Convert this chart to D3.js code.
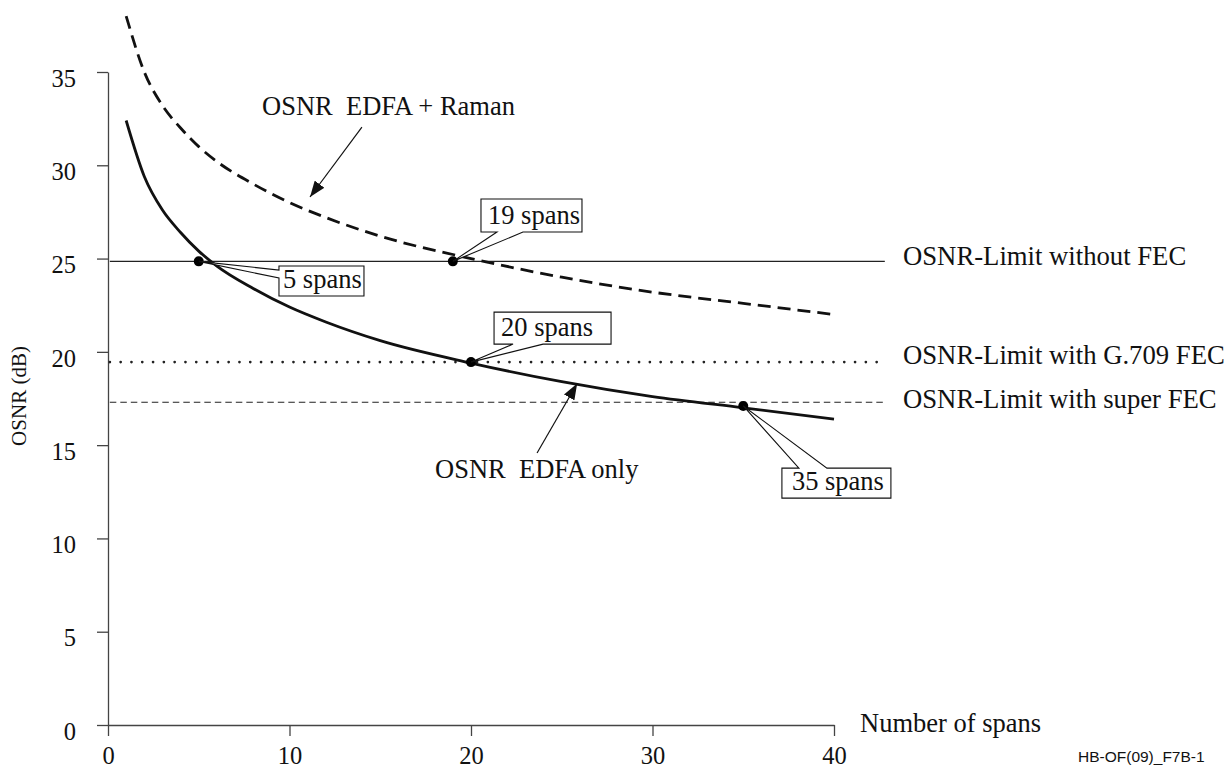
<!DOCTYPE html>
<html>
<head>
<meta charset="utf-8">
<script src="https://cdn.jsdelivr.net/npm/d3@7"></script>
<style>
  body { margin: 0; background: #fff; }
  svg { display: block; }
  svg text { font-family: "Liberation Serif", "Times New Roman", serif; fill: #111; }
</style>
</head>
<body>
<svg id="chart" width="1231" height="770"></svg>
<script>
// OSNR versus number of amplifier spans
const spans = [1, 2, 3, 4, 5, 6, 8, 10, 12, 15, 20, 25, 30, 35, 40];
const osnrEdfaOnly  = [32.4, 29.4, 27.6, 26.4, 25.4, 24.6, 23.4, 22.4, 21.6, 20.6, 19.4, 18.4, 17.6, 17.0, 16.4];
const osnrEdfaRaman = [38.0, 35.0, 33.2, 32.0, 31.0, 30.2, 29.0, 28.0, 27.2, 26.2, 25.0, 24.0, 23.2, 22.6, 22.0];

// OSNR limits for the different FEC schemes (dB)
const limitNames  = ["OSNR-Limit without FEC", "OSNR-Limit with G.709 FEC", "OSNR-Limit with super FEC"];
const limitValues = [24.85, 19.45, 17.3];

// Reach points: where a curve meets a limit
const reachLabels = ["5 spans", "19 spans", "20 spans", "35 spans"];
const reachSpans  = [5, 19, 20, 35];
const reachOsnr   = [24.85, 24.85, 19.45, 17.1];

const xTicks = [0, 10, 20, 30, 40];
const yTicks = [0, 5, 10, 15, 20, 25, 30, 35];

const SERIF = '"Liberation Serif", "Times New Roman", serif';
const SANS = '"Liberation Sans", Arial, sans-serif';

const svg = d3.select("#chart");
const x = d3.scaleLinear().domain([0, 40]).range([108, 834]);
const y = d3.scaleLinear().domain([0, 35]).range([725, 72]);

// ---- axes ----
const yAxis = svg.append("g")
  .attr("transform", `translate(${x(0)},0)`)
  .call(d3.axisLeft(y).tickValues(yTicks).tickSize(11).tickSizeOuter(0).tickPadding(21));
const xAxis = svg.append("g")
  .attr("transform", `translate(0,${y(0)})`)
  .call(d3.axisBottom(x).tickValues(xTicks).tickSize(11).tickSizeOuter(0));
[yAxis, xAxis].forEach(g => {
  g.select(".domain").attr("stroke", "#444").attr("stroke-width", 1.3);
  g.selectAll(".tick line").attr("stroke", "#444").attr("stroke-width", 1.3);
  g.selectAll(".tick text")
    .style("font-family", SERIF)
    .style("font-size", "24.5px").style("fill", "#111");
});
yAxis.selectAll(".tick text").attr("dy", "0.58em");
xAxis.selectAll(".tick text").attr("y", 39).attr("dy", 0);

svg.append("text")
  .attr("transform", `translate(26,${396}) rotate(-90)`)
  .attr("text-anchor", "middle")
  .style("font-family", SERIF).style("font-size", "21px")
  .text("OSNR (dB)");

svg.append("text")
  .attr("x", 860).attr("y", 732)
  .style("font-family", SERIF).style("font-size", "26.5px")
  .text("Number of spans");

svg.append("text")
  .attr("x", 1078).attr("y", 762)
  .style("font-family", SANS).style("font-size", "15.5px")
  .text("HB-OF(09)_F7B-1");

// ---- limit lines ----
const limitEnd = 42.8;
const limitStyles = [
  { width: 1.3, dash: null, cap: "butt" },
  { width: 2.6, dash: "0.1,10.7", cap: "round" },
  { width: 1.1, dash: "6.5,4", cap: "butt" }
];
limitValues.forEach((v, i) => {
  svg.append("line")
    .attr("x1", x(0.1)).attr("x2", x(limitEnd))
    .attr("y1", y(v)).attr("y2", y(v))
    .attr("stroke", "#222")
    .attr("stroke-width", limitStyles[i].width)
    .attr("stroke-dasharray", limitStyles[i].dash)
    .attr("stroke-linecap", limitStyles[i].cap);
});
const limitLabelY = [265, 364, 408];
limitNames.forEach((t, i) => {
  svg.append("text")
    .attr("x", 903).attr("y", limitLabelY[i])
    .style("font-family", SERIF).style("font-size", "26.7px")
    .text(t);
});

// ---- OSNR curves ----
const line = d3.line()
  .x(d => x(d[0])).y(d => y(d[1]))
  .curve(d3.curveMonotoneX);

svg.append("path")
  .datum(d3.zip(spans, osnrEdfaRaman))
  .attr("d", line)
  .attr("fill", "none").attr("stroke", "#111")
  .attr("stroke-width", 2.8)
  .attr("stroke-dasharray", "13,7");

svg.append("path")
  .datum(d3.zip(spans, osnrEdfaOnly))
  .attr("d", line)
  .attr("fill", "none").attr("stroke", "#111")
  .attr("stroke-width", 2.8);

// ---- reach points ----
svg.selectAll("circle.reach")
  .data(d3.zip(reachSpans, reachOsnr))
  .join("circle")
  .attr("class", "reach")
  .attr("cx", d => x(d[0])).attr("cy", d => y(d[1]))
  .attr("r", 5).attr("fill", "#000");

// ---- callout boxes ----
// box anchor given in data coordinates, size and pointer in pixels
const callouts = [
  { bx: 9.42,  by: 24.6,  w: 85,  h: 30, side: "left",   a0: 4,  a1: 12, pad: 4 },
  { bx: 20.55, by: 28.19, w: 101, h: 33, side: "bottom", a0: 16, a1: 42, pad: 7 },
  { bx: 21.27, by: 22.13, w: 117, h: 32, side: "bottom", a0: 19, a1: 49, pad: 7 },
  { bx: 37.13, by: 13.77, w: 109, h: 30, side: "top",    a0: 17, a1: 45, pad: 10 }
];
callouts.forEach((c, i) => {
  const x0 = x(c.bx), y0 = y(c.by), x1 = x0 + c.w, y1 = y0 + c.h;
  const tx = x(reachSpans[i]), ty = y(reachOsnr[i]);
  let p;
  if (c.side === "bottom") {
    p = `M${x0},${y0}H${x1}V${y1}H${x0 + c.a1}L${tx},${ty}L${x0 + c.a0},${y1}H${x0}Z`;
  } else if (c.side === "top") {
    p = `M${x0},${y0}H${x0 + c.a0}L${tx},${ty}L${x0 + c.a1},${y0}H${x1}V${y1}H${x0}Z`;
  } else {
    p = `M${x0},${y0}H${x1}V${y1}H${x0}V${y0 + c.a1}L${tx},${ty}L${x0},${y0 + c.a0}Z`;
  }
  svg.append("path").attr("d", p)
    .attr("fill", "#fff").attr("stroke", "#111").attr("stroke-width", 1.1)
    .attr("stroke-linejoin", "miter");
  svg.append("text")
    .attr("x", x0 + c.pad).attr("y", y0 + c.h - 8)
    .style("font-family", SERIF).style("font-size", "26.5px")
    .text(reachLabels[i]);
});

// ---- curve labels with arrows ----
svg.append("defs").append("marker")
  .attr("id", "head")
  .attr("viewBox", "0 0 16 12")
  .attr("refX", 16).attr("refY", 6)
  .attr("markerWidth", 16).attr("markerHeight", 12)
  .attr("markerUnits", "userSpaceOnUse")
  .attr("orient", "auto")
  .append("path").attr("d", "M0,0L16,6L0,12Z").attr("fill", "#111");

const curveLabels = [
  { text: "OSNR  EDFA + Raman", tx: 262, ty: 115, from: [13.99, 32.05], to: [11.13, 28.3] },
  { text: "OSNR  EDFA only",    tx: 435, ty: 478, from: [23.64, 14.58], to: [25.85, 18.3] }
];
curveLabels.forEach(l => {
  svg.append("text")
    .attr("x", l.tx).attr("y", l.ty)
    .style("font-family", SERIF).style("font-size", "26.5px")
    .style("white-space", "pre")
    .text(l.text);
  svg.append("line")
    .attr("x1", x(l.from[0])).attr("y1", y(l.from[1]))
    .attr("x2", x(l.to[0])).attr("y2", y(l.to[1]))
    .attr("stroke", "#111").attr("stroke-width", 1.2)
    .attr("marker-end", "url(#head)");
});
</script>
</body>
</html>
